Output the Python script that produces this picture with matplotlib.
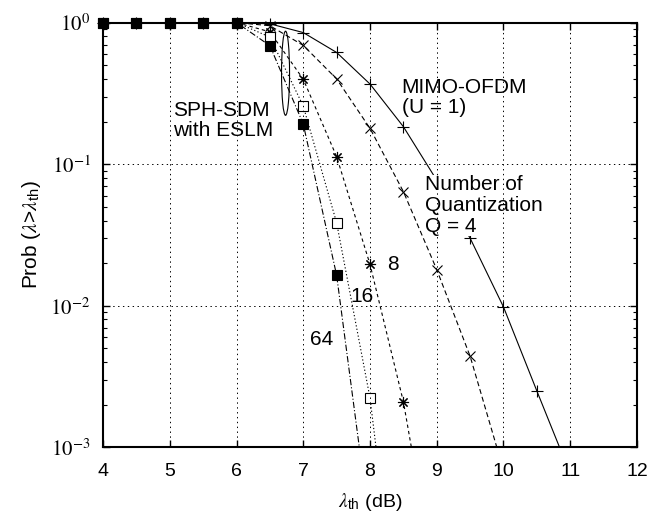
import numpy as np
import matplotlib.pyplot as plt
from matplotlib.patches import Ellipse

plt.rcParams['font.family'] = ['Liberation Sans', 'DejaVu Sans']
plt.rcParams['mathtext.fontset'] = 'stix'
plt.rcParams['lines.scale_dashes'] = False

# threshold (dB) at the marker positions
x = [4, 4.5, 5, 5.5, 6, 6.5, 7, 7.5, 8, 8.5, 9, 9.5, 10, 10.5]

# CCDF values
mimo = [1, 1, 1, 1, 1, 0.98, 0.85, 0.615, 0.368, 0.184, 0.077, 0.030, 0.0098, 0.0025]
q4 = [1, 1, 1, 1, 1, 0.95, 0.69, 0.40, 0.179, 0.064, 0.018, 0.0044]
q8 = [1, 1, 1, 1, 1, 0.86, 0.398, 0.113, 0.0196, 0.0021]
q16 = [1, 1, 1, 1, 1, 0.79, 0.257, 0.0385, 0.00223]
q64 = [1, 1, 1, 1, 1, 0.687, 0.192, 0.0164]

# where each curve leaves the bottom of the plot (prob = 1e-3)
x_exit = [10.84, 9.9, 8.62, 8.09, 7.84]
p_floor = 1e-3

xticks = [4, 5, 6, 7, 8, 9, 10, 11, 12]
yticks = [1e-3, 1e-2, 1e-1, 1]
ylabels = [r'$10^{-3}$', r'$10^{-2}$', r'$10^{-1}$', r'$10^{0}$']

fig = plt.figure(figsize=(6.48, 5.13), dpi=100)
ax = fig.add_axes([0.159, 0.128, 0.824, 0.828])

# gnuplot style asterisk = plus + cross
star = (8, 2, 0)
series = [
    (mimo, '-', '+', 'k', 8),
    (q4, (0, (3.6, 2.2)), 'x', 'k', 6.5),
    (q8, (0, (2.4, 2.2)), star, 'k', 8),
    (q16, (0, (0.9, 1.6)), 's', 'w', 6.5),
    (q64, (0, (4.5, 1.5, 0.8, 1.5)), 's', 'k', 7),
]

for (vals, ls, mk, mfc, ms), xe in zip(series, x_exit):
    n = len(vals)
    xs = x[:n] + [xe]
    ys = vals + [p_floor]
    ax.plot(xs, ys, color='k', lw=0.8, linestyle=ls, marker=mk,
            markevery=list(range(n)), ms=ms, mfc=mfc, mec='k', mew=0.8,
            clip_on=False)

ax.set_yscale('log')
ax.set_xlim(4, 12)
ax.set_ylim(1e-3, 1)
ax.set_xticks(xticks)
ax.set_yticks(yticks)
ax.set_yticklabels(ylabels)
ax.tick_params(axis='x', which='major', direction='in', top=True, length=5,
               width=1, labelsize=14, pad=11)
ax.tick_params(axis='y', which='major', direction='in', right=True, length=5,
               width=1, labelsize=15, pad=9)
ax.tick_params(axis='y', which='minor', direction='in', right=True, length=3,
               width=0.8)
for s in ax.spines.values():
    s.set_linewidth(1.5)

ax.set_axisbelow(False)
ax.grid(True, which='major', color='k', lw=0.7, linestyle=(0, (1, 2.5)))

ax.set_xlabel(r'$\lambda_{\mathregular{th}}$ (dB)', fontsize=14, labelpad=8)
ax.set_ylabel(r'Prob ($\lambda$>$\lambda_{\mathregular{th}}$)', fontsize=15,
              labelpad=5)

ax.text(5.05, 0.279, 'SPH-SDM\nwith ESLM', fontsize=15, ha='left', va='top',
        linespacing=1.05)
ax.text(8.475, 0.404, 'MIMO-OFDM\n(U = 1)', fontsize=15, ha='left', va='top',
        linespacing=1.05)
ax.text(8.82, 0.0837, 'Number of\nQuantization\nQ = 4', fontsize=15, ha='left',
        va='top', linespacing=1.12, zorder=2.2,
        bbox=dict(facecolor='white', edgecolor='none', pad=0))
ax.text(8.255, 0.0228, '8', fontsize=15, ha='left', va='top')
ax.text(7.70, 0.0135, '16', fontsize=15, ha='left', va='top')
ax.text(7.10, 0.0067, '64', fontsize=15, ha='left', va='top')

ax.add_patch(Ellipse((0.3418, 0.8807), 0.015, 0.198, transform=ax.transAxes,
                     fill=False, lw=0.8, color='k'))

fig.savefig('out.png', dpi=100)
